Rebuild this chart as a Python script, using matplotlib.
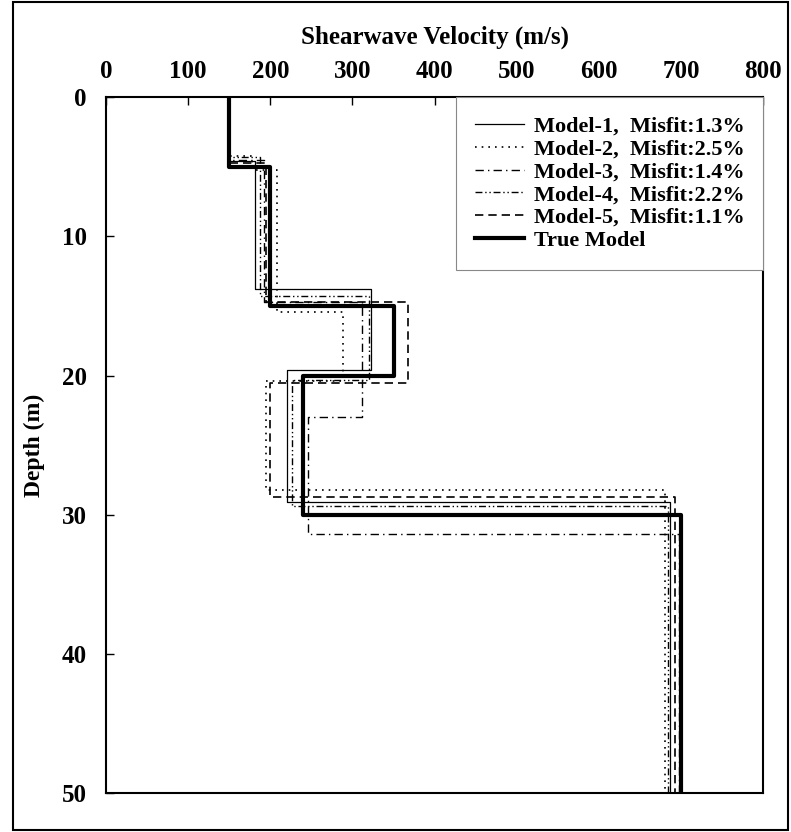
import matplotlib.pyplot as plt
from matplotlib.patches import Rectangle

plt.rcParams["font.family"] = ["Liberation Serif", "DejaVu Serif"]
plt.rcParams["font.weight"] = "bold"

# layer boundaries (m) and shear wave velocities (m/s) of each profile
depth_m1 = [0, 4.6, 13.8, 19.6, 29.1, 50]
vel_m1 = [150, 181, 323, 220, 686]
depth_m2 = [0, 4.2, 5.2, 15.4, 20.4, 28.2, 50]
vel_m2 = [150, 178, 208, 288, 195, 680]
depth_m3 = [0, 4.5, 14.7, 23.0, 31.4, 50]
vel_m3 = [150, 192, 311, 246, 697]
depth_m4 = [0, 4.3, 14.3, 20.3, 29.4, 50]
vel_m4 = [150, 188, 320, 226, 684]
depth_m5 = [0, 4.7, 14.7, 20.5, 28.7, 50]
vel_m5 = [150, 195, 367, 200, 692]
depth_true = [0, 5, 15, 20, 30, 50]
vel_true = [150, 200, 350, 240, 700]

labels = ["Model-1,  Misfit:1.3%", "Model-2,  Misfit:2.5%", "Model-3,  Misfit:1.4%",
          "Model-4,  Misfit:2.2%", "Model-5,  Misfit:1.1%", "True Model"]


def step_profile(depths, vels):
    xs, ys = [], []
    for i, v in enumerate(vels):
        xs += [v, v]
        ys += [depths[i], depths[i + 1]]
    return xs, ys


fig = plt.figure(figsize=(7.91, 8.32), dpi=100)
ax = fig.add_axes([0.134, 0.047, 0.831, 0.836])

styles = [
    dict(color="black", lw=0.9, ls="-"),
    dict(color="black", lw=1.2, ls=(0, (1, 3))),
    dict(color="black", lw=1.0, ls=(0, (6, 3, 1, 3))),
    dict(color="black", lw=1.0, ls=(0, (5, 2, 1, 2, 1, 2))),
    dict(color="black", lw=1.2, ls=(0, (5, 3))),
    dict(color="black", lw=3.0, ls="-"),
]
profiles = [(depth_m1, vel_m1), (depth_m2, vel_m2), (depth_m3, vel_m3),
            (depth_m4, vel_m4), (depth_m5, vel_m5), (depth_true, vel_true)]

for (d, v), st, lab in zip(profiles, styles, labels):
    xs, ys = step_profile(d, v)
    ax.plot(xs, ys, label=lab, **st)

ax.set_xlim(0, 800)
ax.set_ylim(50, 0)
ax.set_xticks(range(0, 801, 100))
ax.set_yticks(range(0, 51, 10))
ax.xaxis.tick_top()
ax.xaxis.set_label_position("top")
ax.tick_params(axis="both", direction="in", length=6, width=1, labelsize=18)
ax.tick_params(axis="y", pad=14)
ax.tick_params(axis="x", pad=10)
ax.set_xlabel("Shearwave Velocity (m/s)", fontsize=18, fontweight="bold", labelpad=12)
ax.set_ylabel("Depth (m)", fontsize=17, fontweight="bold", labelpad=12)
for s in ax.spines.values():
    s.set_linewidth(1.5)

leg = ax.legend(loc="upper right", borderaxespad=0, fontsize=16, handlelength=2.2,
                handletextpad=0.45, labelspacing=0.1, fancybox=False, framealpha=1,
                edgecolor="#888888", borderpad=0.85)
leg.get_frame().set_linewidth(0.8)

fig.patches.append(Rectangle((0.016, 0.003), 0.98, 0.994, transform=fig.transFigure,
                             fill=False, edgecolor="black", lw=1.5))

fig.savefig("out.png", dpi=100)
